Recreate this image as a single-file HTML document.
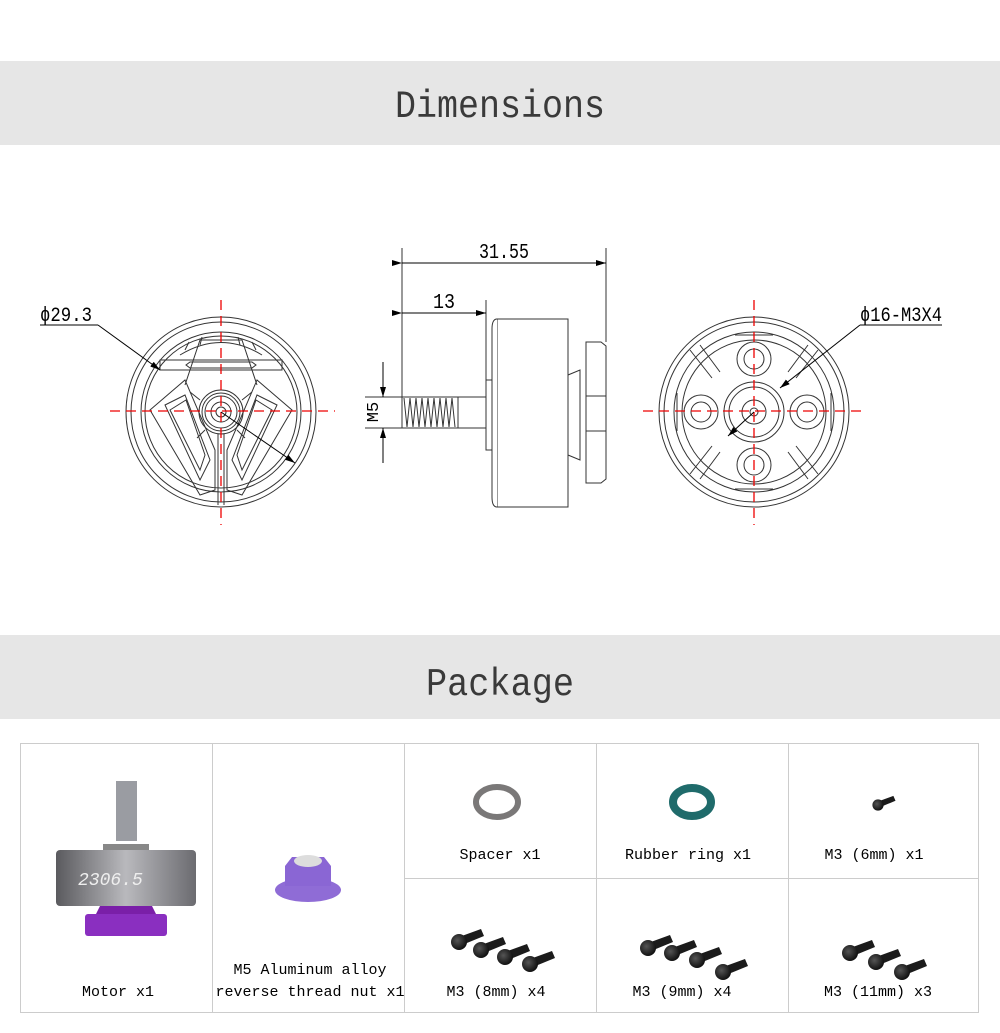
<!DOCTYPE html>
<html><head><meta charset="utf-8"><style>
body{margin:0;background:#fff;}
svg{display:block}
text{font-family:"Liberation Mono","Noto Sans CJK SC",monospace;}
</style></head><body>
<svg width="1000" height="1033" viewBox="0 0 1000 1033" xmlns="http://www.w3.org/2000/svg">
<defs>
<marker id="ar" markerWidth="10" markerHeight="6" refX="10" refY="3" orient="auto" markerUnits="userSpaceOnUse"><path d="M0,0 L10,3 L0,6 z" fill="#000"/></marker>
<radialGradient id="screw" cx="0.4" cy="0.4" r="0.6"><stop offset="0" stop-color="#555"/><stop offset="1" stop-color="#111"/></radialGradient>
<linearGradient id="motor" x1="0" x2="1"><stop offset="0" stop-color="#5a5a5e"/><stop offset="0.5" stop-color="#b9b9bd"/><stop offset="1" stop-color="#6b6b70"/></linearGradient>
<g id="sc"><path d="M0,-5 L22,-13 L25,-6 L3,3 z" fill="#1b1b1b"/><circle cx="0" cy="0" r="8" fill="url(#screw)"/></g>
</defs>
<rect x="0" y="61" width="1000" height="84" fill="#e6e6e6"/>
<text x="500" y="117" text-anchor="middle" font-size="39" fill="#3a3a3a" textLength="210" lengthAdjust="spacingAndGlyphs">Dimensions</text>
<rect x="0" y="635" width="1000" height="84" fill="#e6e6e6"/>
<text x="500" y="695" text-anchor="middle" font-size="39" fill="#3a3a3a" textLength="148" lengthAdjust="spacingAndGlyphs">Package</text>

<!-- left view -->
<g fill="none" stroke="#333" stroke-width="1">
<circle cx="221" cy="412" r="95"/><circle cx="221" cy="412" r="90"/><circle cx="221" cy="412" r="80"/><circle cx="221" cy="412" r="76"/>
<circle cx="221" cy="412" r="22"/><circle cx="221" cy="412" r="19"/><circle cx="221" cy="412" r="16"/><circle cx="221" cy="412" r="10"/><circle cx="221" cy="412" r="5"/>
<path d="M160,360 h122 v10 h-122 z"/><path d="M190,362 h62 l4,3 -4,3 h-62 l-4,-3z"/>
<path d="M180,355 q41,-25 82,0"/><path d="M185,350 l4,-8 M200,345 l2,-8 M240,345 l-2,-8 M256,350 l-4,-8"/>
<path d="M150,410 L185,380 L215,450 L215,490 L200,495 z"/><path d="M292,410 L257,380 L227,450 L227,490 L242,495 z"/>
<path d="M165,405 L185,395 L210,460 L200,480 z"/><path d="M277,405 L257,395 L232,460 L242,480 z"/>
<path d="M170,410 L186,400 L205,455 L200,470 z"/><path d="M272,410 L256,400 L237,455 L242,470 z"/>
<path d="M185,385 L200,340 L242,340 L257,385"/>
<line x1="218" y1="434" x2="218" y2="505"/><line x1="224" y1="434" x2="224" y2="505"/>
<path d="M200,400 l-10,-8 M242,400 l10,-8 M205,430 l-8,8 M237,430 l8,8"/>
</g>
<g stroke="#e00" stroke-width="1.3" stroke-dasharray="10,6" fill="none">
<line x1="110" y1="411" x2="335" y2="411"/><line x1="221" y1="300" x2="221" y2="525"/>
</g>
<line x1="40" y1="325" x2="98" y2="325" stroke="#000"/>
<line x1="98" y1="325" x2="160" y2="370" stroke="#000" marker-end="url(#ar)"/>
<line x1="221" y1="412" x2="295" y2="463" stroke="#000" marker-end="url(#ar)"/>
<text x="40" y="321" font-size="20" fill="#000" textLength="52" lengthAdjust="spacingAndGlyphs">ϕ29.3</text>

<!-- side view -->
<g fill="#fff" stroke="#333" stroke-width="1">
<rect x="497" y="319" width="71" height="188"/>
<path d="M497,319 q-5,0 -5,10 v168 q0,10 5,10"/>
<rect x="486" y="380" width="6" height="70"/>
<path d="M568,375 L580,370 L580,460 L568,455z"/>
<path d="M586,342 h15 l5,4 v133 l-5,4 h-15 z"/>
<line x1="586" y1="396" x2="606" y2="396"/><line x1="586" y1="431" x2="606" y2="431"/>
<rect x="402" y="397" width="56" height="31" fill="#fff"/>
</g>
<g stroke="#333" stroke-width="1">
<path d="M404,398 l3,29 l3,-29 l3,29 l3,-29 l3,29 l3,-29 l3,29 l3,-29 l3,29 l3,-29 l3,29 l3,-29 l3,29 l3,-29 l3,29 l3,-29 l3,29" fill="none"/>
<line x1="458" y1="397" x2="486" y2="397"/><line x1="458" y1="428" x2="486" y2="428"/>
<line x1="402" y1="248" x2="402" y2="397"/><line x1="606" y1="248" x2="606" y2="342"/>
<line x1="486" y1="300" x2="486" y2="380"/>
<line x1="365" y1="397" x2="402" y2="397"/><line x1="365" y1="428" x2="402" y2="428"/>
</g>
<line x1="402" y1="263" x2="606" y2="263" stroke="#000" marker-start="url(#ar)" marker-end="url(#ar)"/>
<line x1="402" y1="313" x2="486" y2="313" stroke="#000" marker-start="url(#ar)" marker-end="url(#ar)"/>
<line x1="383" y1="362" x2="383" y2="397" stroke="#000" marker-end="url(#ar)"/>
<line x1="383" y1="463" x2="383" y2="428" stroke="#000" marker-end="url(#ar)"/>
<text x="504" y="258" text-anchor="middle" font-size="21" textLength="50" lengthAdjust="spacingAndGlyphs">31.55</text>
<text x="444" y="308" text-anchor="middle" font-size="21" textLength="22" lengthAdjust="spacingAndGlyphs">13</text>
<text transform="translate(378,412) rotate(-90)" text-anchor="middle" font-size="17">M5</text>

<!-- right view -->
<g fill="none" stroke="#333" stroke-width="1">
<circle cx="754" cy="412" r="95"/><circle cx="754" cy="412" r="90"/><circle cx="754" cy="412" r="80"/><circle cx="754" cy="412" r="72"/>
<circle cx="754" cy="412" r="30"/><circle cx="754" cy="412" r="25"/><circle cx="754" cy="412" r="12"/><circle cx="754" cy="412" r="4"/>
<circle cx="754" cy="359" r="17"/><circle cx="754" cy="359" r="10"/>
<circle cx="754" cy="465" r="17"/><circle cx="754" cy="465" r="10"/>
<circle cx="701" cy="412" r="17"/><circle cx="701" cy="412" r="10"/>
<circle cx="807" cy="412" r="17"/><circle cx="807" cy="412" r="10"/>
<path d="M712,378 L690,350 M720,372 L700,345 M796,378 L818,350 M788,372 L808,345 M712,446 L690,474 M720,452 L700,479 M796,446 L818,474 M788,452 L808,479"/>
<path d="M735,335 h38 M735,489 h38 M677,393 v38 M831,393 v38"/>
</g>
<g stroke="#e00" stroke-width="1.3" stroke-dasharray="10,6" fill="none">
<line x1="643" y1="411" x2="865" y2="411"/><line x1="754" y1="300" x2="754" y2="525"/>
</g>
<line x1="860" y1="325" x2="942" y2="325" stroke="#000"/>
<line x1="860" y1="325" x2="780" y2="388" stroke="#000" marker-end="url(#ar)"/>
<line x1="754" y1="412" x2="728" y2="436" stroke="#000" marker-end="url(#ar)"/>
<text x="860" y="321" font-size="20" textLength="82" lengthAdjust="spacingAndGlyphs">ϕ16-M3X4</text>

<!-- package grid -->
<g stroke="#ccc" stroke-width="1" fill="none">
<rect x="20.5" y="743.5" width="958" height="269"/>
<line x1="212.5" y1="743" x2="212.5" y2="1012"/><line x1="404.5" y1="743" x2="404.5" y2="1012"/>
<line x1="596.5" y1="743" x2="596.5" y2="1012"/><line x1="788.5" y1="743" x2="788.5" y2="1012"/>
<line x1="404" y1="878.5" x2="979" y2="878.5"/>
</g>
<!-- motor -->
<rect x="116" y="781" width="21" height="60" fill="#9a9ca2"/>
<rect x="103" y="844" width="46" height="6" fill="#888"/>
<rect x="56" y="850" width="140" height="56" rx="4" fill="url(#motor)"/>
<text x="78" y="885" font-size="18" fill="#eee" font-style="italic">2306.5</text>
<path d="M100,906 h52 l4,8 h-60z" fill="#7a1fa8"/>
<rect x="85" y="914" width="82" height="22" rx="3" fill="#8a2fc0"/>
<!-- nut -->
<ellipse cx="308" cy="890" rx="33" ry="12" fill="#8f6cd6"/>
<path d="M285,866 L292,857 L324,857 L331,866 L331,886 L285,886z" fill="#8a66d4"/>
<ellipse cx="308" cy="861" rx="14" ry="6" fill="#ddd"/>
<text x="118" y="996" text-anchor="middle" font-size="15">Motor x1</text>
<text x="310" y="974" text-anchor="middle" font-size="15">M5 Aluminum alloy</text>
<text x="310" y="996" text-anchor="middle" font-size="15">reverse thread nut x1</text>
<!-- spacer / ring -->
<ellipse cx="497" cy="802" rx="21" ry="15" fill="none" stroke="#7a7878" stroke-width="6"/>
<ellipse cx="692" cy="802" rx="19" ry="14" fill="none" stroke="#1f6b6b" stroke-width="8"/>
<use href="#sc" transform="translate(878,805) scale(0.7)"/>
<text x="500" y="859" text-anchor="middle" font-size="15">Spacer x1</text>
<text x="688" y="859" text-anchor="middle" font-size="15">Rubber ring x1</text>
<text x="874" y="859" text-anchor="middle" font-size="15">M3 (6mm) x1</text>
<use href="#sc" transform="translate(459,942)"/><use href="#sc" transform="translate(481,950)"/>
<use href="#sc" transform="translate(505,957)"/><use href="#sc" transform="translate(530,964)"/>
<use href="#sc" transform="translate(648,948)"/><use href="#sc" transform="translate(672,953)"/>
<use href="#sc" transform="translate(697,960)"/><use href="#sc" transform="translate(723,972)"/>
<use href="#sc" transform="translate(850,953)"/><use href="#sc" transform="translate(876,962)"/><use href="#sc" transform="translate(902,972)"/>
<text x="496" y="996" text-anchor="middle" font-size="15">M3 (8mm) x4</text>
<text x="682" y="996" text-anchor="middle" font-size="15">M3 (9mm) x4</text>
<text x="878" y="996" text-anchor="middle" font-size="15">M3 (11mm) x3</text>
</svg>
</body></html>
